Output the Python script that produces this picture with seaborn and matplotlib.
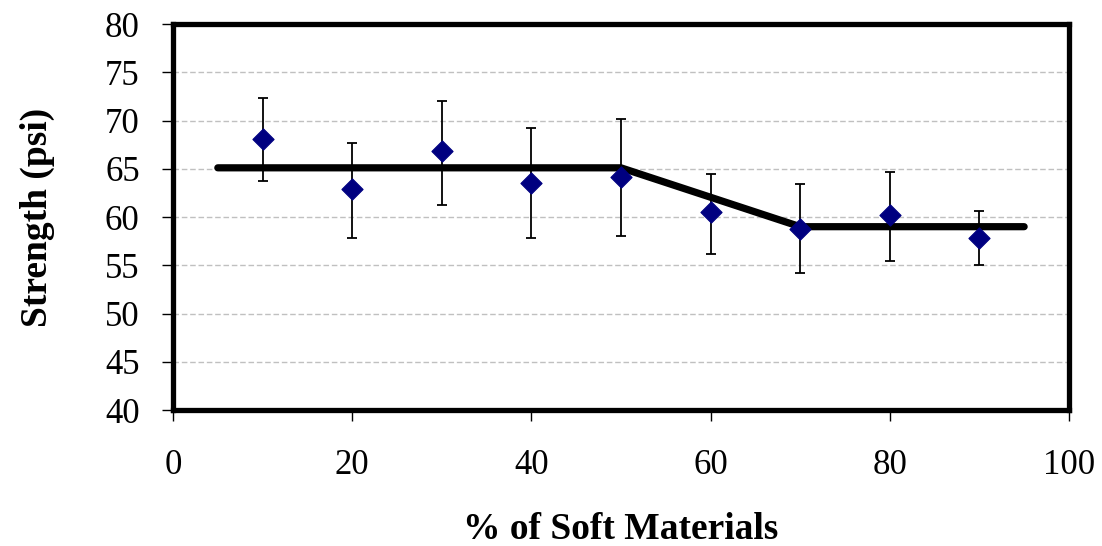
import matplotlib
matplotlib.use("Agg")
import matplotlib.pyplot as plt
import seaborn as sns
import pandas as pd

# Data
soft_pct = [10, 20, 30, 40, 50, 60, 70, 80, 90]
strength = [68.1, 62.9, 66.8, 63.5, 64.2, 60.5, 58.8, 60.2, 57.8]
err_upper = [72.3, 67.7, 72.0, 69.2, 70.2, 64.5, 63.4, 64.7, 60.6]
err_lower = [63.7, 57.8, 61.2, 57.8, 58.0, 56.2, 54.2, 55.4, 55.0]

trend_x = [5, 50, 70, 95]
trend_y = [65.1, 65.1, 59.0, 59.0]

df = pd.DataFrame({"pct": soft_pct, "strength": strength})
trend = pd.DataFrame({"pct": trend_x, "strength": trend_y})

sns.set_style("white")
plt.rcParams["font.family"] = ["Liberation Serif", "DejaVu Serif"]
plt.rcParams["text.color"] = "black"
plt.rcParams["axes.labelcolor"] = "black"
plt.rcParams["xtick.color"] = "black"
plt.rcParams["ytick.color"] = "black"

fig = plt.figure(figsize=(11.02, 5.46), dpi=100)
ax = fig.add_axes([0.157, 0.249, 0.813, 0.707])

# gridlines
for v in range(45, 80, 5):
    ax.axhline(v, color="#c0c0c0", linestyle=(0, (4, 2)), linewidth=1, zorder=0)

yerr = [[s - lo for s, lo in zip(strength, err_lower)],
        [hi - s for s, hi in zip(strength, err_upper)]]
ax.errorbar(soft_pct, strength, yerr=yerr, fmt="none", ecolor="black",
            elinewidth=1.3, capsize=3.6, capthick=1.3, zorder=2)

sns.lineplot(data=trend, x="pct", y="strength", color="black", linewidth=5.2,
             ax=ax, zorder=3)
sns.scatterplot(data=df, x="pct", y="strength", marker="D", s=115,
                color="#000080", edgecolor="#000080", ax=ax, zorder=4)

ax.set_xlim(0, 100)
ax.set_ylim(40, 80)
ax.set_xticks(range(0, 101, 20))
ax.set_yticks(range(40, 81, 5))
ax.tick_params(axis="both", labelsize=25, direction="out", length=8, width=1,
               colors="black", left=True, bottom=True)
ax.tick_params(axis="y", pad=16)
ax.tick_params(axis="x", pad=20)

for sp in ax.spines.values():
    sp.set_linewidth(3.8)
    sp.set_color("black")

ax.set_xlabel("% of Soft Materials", fontsize=27, fontweight="bold", labelpad=22)
ax.set_ylabel("Strength (psi)", fontsize=27, fontweight="bold", labelpad=36)

fig.savefig("out.png", dpi=100)
